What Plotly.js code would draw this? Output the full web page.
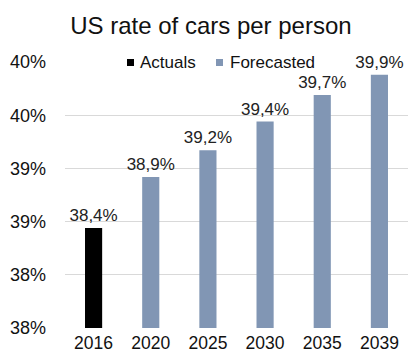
<!DOCTYPE html>
<html>
<head>
<meta charset="utf-8">
<script src="https://cdn.plot.ly/plotly-3.0.1.min.js"></script>
<style>html,body{margin:0;padding:0;background:#fff;}#chart{width:408px;height:361px;}</style>
</head>
<body>
<div id="chart"></div>
<script>
const years = ["2016", "2020", "2025", "2030", "2035", "2039"];
const seriesNames = ["Actuals", "Forecasted"];
const actualYears = ["2016"];
const actualValues = [0.3844];
const forecastYears = ["2020", "2025", "2030", "2035", "2039"];
const forecastValues = [0.3892, 0.3917, 0.3944, 0.3969, 0.3988];
const tickValues = [0.375, 0.38, 0.385, 0.39, 0.395, 0.40];
const tickLabels = ["38%", "38%", "39%", "39%", "40%", "40%"];

const font = "Liberation Sans, Arial, sans-serif";
const colors = ["#000000", "#8196b4"];
const W = 408, H = 361, M = {l: 65, r: 0, t: 62, b: 33};
const pw = W - M.l - M.r, ph = H - M.t - M.b;
const px = x => (x - M.l) / pw;
const py = y => (H - M.b - y) / ph;

function barTrace(name, xs, ys, color) {
  return {
    type: "bar", name: name, x: xs, y: ys,
    marker: {color: color}, width: 0.3,
    texttemplate: "%{y:.1%}", textposition: "outside", cliponaxis: false,
    constraintext: "none",
    textfont: {family: font, size: 17, color: "#222"}
  };
}
const traces = [
  barTrace(seriesNames[0], actualYears, actualValues, colors[0]),
  barTrace(seriesNames[1], forecastYears, forecastValues, colors[1])
];

// Legend drawn Excel-style: small squares + labels over the top gridline
const legendItems = [
  {name: seriesNames[0], color: colors[0], sq: 127, tx: 138},
  {name: seriesNames[1], color: colors[1], sq: 216, tx: 228}
];
const shapes = [
  {type: "rect", xref: "paper", yref: "paper", layer: "above",
   x0: px(120), x1: px(320), y0: py(70), y1: py(54),
   fillcolor: "#fff", line: {width: 0}}
];
const annotations = [];
legendItems.forEach(it => {
  shapes.push({type: "rect", xref: "paper", yref: "paper", layer: "above",
    x0: px(it.sq), x1: px(it.sq + 7), y0: py(66), y1: py(59),
    fillcolor: it.color, line: {width: 0}});
  annotations.push({xref: "paper", yref: "paper", x: px(it.tx), y: py(62.5),
    xanchor: "left", yanchor: "middle", showarrow: false, text: it.name,
    font: {family: font, size: 17, color: "#111"}});
});

const layout = {
  width: W, height: H,
  margin: M,
  paper_bgcolor: "#fff", plot_bgcolor: "#fff",
  separators: ",.",
  barmode: "overlay",
  font: {family: font, color: "#222"},
  title: {text: "US rate of cars per person", font: {family: font, size: 24, color: "#111"},
          x: 0.517, xanchor: "center", y: 0.93, yanchor: "middle"},
  showlegend: false,
  shapes: shapes,
  annotations: annotations,
  xaxis: {type: "category", categoryorder: "array", categoryarray: years,
          range: [-0.5, 5.5], showgrid: false, zeroline: false, showline: false,
          ticks: "", ticklabelstandoff: 2, tickfont: {family: font, size: 17.5, color: "#111"}},
  yaxis: {range: [0.375, 0.40], tickvals: tickValues, ticktext: tickLabels,
          showgrid: true, gridcolor: "#d9d9d9", gridwidth: 1, zeroline: false,
          showline: false, ticks: "", ticklabelstandoff: 18,
          tickfont: {family: font, size: 18, color: "#111"}}
};
Plotly.newPlot("chart", traces, layout, {displayModeBar: false, staticPlot: true});
</script>
</body>
</html>
